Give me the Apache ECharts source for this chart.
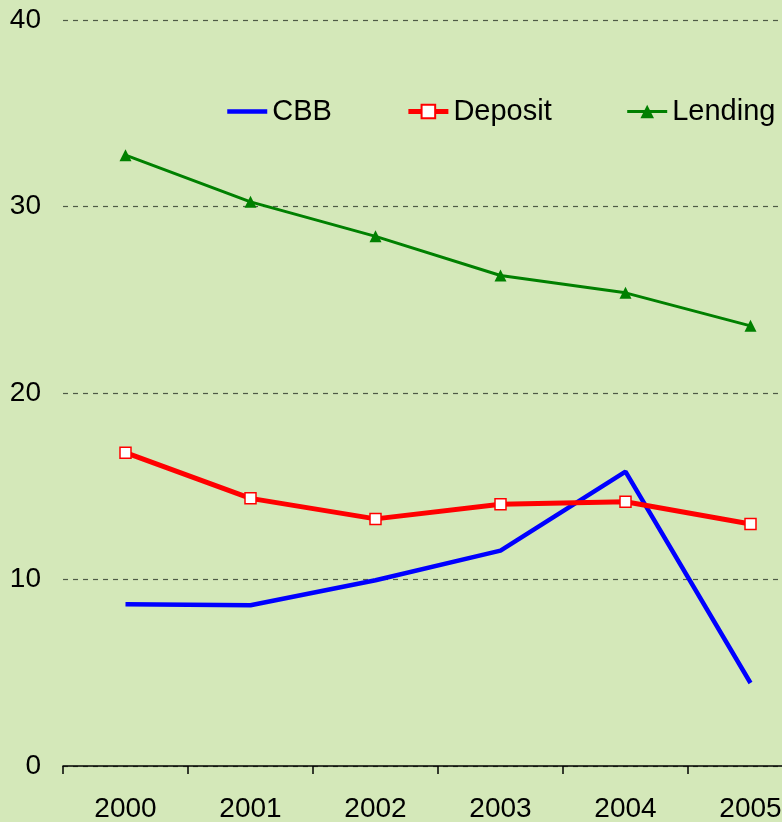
<!DOCTYPE html>
<html>
<head>
<meta charset="utf-8">
<script src="https://cdn.jsdelivr.net/npm/echarts@6/dist/echarts.min.js"></script>
<style>
    html, body { margin: 0; padding: 0; background: #d4e8b9; }
    #chart { width: 782px; height: 822px; }
</style>
</head>
<body>
<div id="chart"></div>
<script>
var years = ['2000', '2001', '2002', '2003', '2004', '2005'];
var cbb = [8.67, 8.62, 9.96, 11.55, 15.78, 4.45];
var deposit = [16.8, 14.35, 13.25, 14.03, 14.17, 12.98];
var lending = [32.75, 30.25, 28.4, 26.3, 25.37, 23.6];

var chart = echarts.init(document.getElementById('chart'));
var font = 'Liberation Sans, Arial, sans-serif';

var option = {
    backgroundColor: '#d4e8b9',
    animation: false,
    grid: {
        left: 63,
        top: 20,
        width: 750,
        bottom: 56,
        outerBoundsMode: 'none'
    },
    legend: {
        left: 225,
        top: 97,
        padding: 0,
        itemWidth: 40,
        itemHeight: 17,
        itemGap: 74,
        textStyle: { fontFamily: font, fontSize: 29, color: '#000' },
        data: [
            { name: 'CBB', lineStyle: { width: 4.5 }, itemStyle: { color: 'rgba(0,0,0,0)', borderWidth: 0 } },
            { name: 'Deposit', lineStyle: { width: 5 } },
            { name: 'Lending', lineStyle: { width: 3 } }
        ]
    },
    xAxis: {
        type: 'category',
        data: years,
        boundaryGap: true,
        axisLine: { lineStyle: { color: '#000', width: 1.5 } },
        axisTick: { show: true, length: 8, lineStyle: { color: '#000', width: 1.5 } },
        axisLabel: { fontFamily: font, fontSize: 28, color: '#000', margin: 29 }
    },
    yAxis: {
        type: 'value',
        min: 0,
        max: 40,
        interval: 10,
        axisLine: { show: false },
        axisTick: { show: false },
        axisLabel: { fontFamily: font, fontSize: 28, color: '#000', margin: 22 },
        splitLine: { lineStyle: { color: '#4e5a46', type: [5, 5], width: 1.2 } }
    },
    series: [
        {
            name: 'CBB',
            type: 'line',
            data: cbb,
            showSymbol: false,
            symbol: 'none',
            lineStyle: { color: '#0000ff', width: 4.5 },
            itemStyle: { color: '#0000ff' }
        },
        {
            name: 'Deposit',
            type: 'line',
            data: deposit,
            symbol: 'rect',
            symbolSize: 11,
            lineStyle: { color: '#ff0000', width: 5 },
            itemStyle: { color: '#ffffff', borderColor: '#ff0000', borderWidth: 1.5 }
        },
        {
            name: 'Lending',
            type: 'line',
            data: lending,
            symbol: 'triangle',
            symbolSize: 12,
            lineStyle: { color: '#008000', width: 3 },
            itemStyle: { color: '#008000' }
        }
    ]
};

chart.setOption(option);
</script>
</body>
</html>
